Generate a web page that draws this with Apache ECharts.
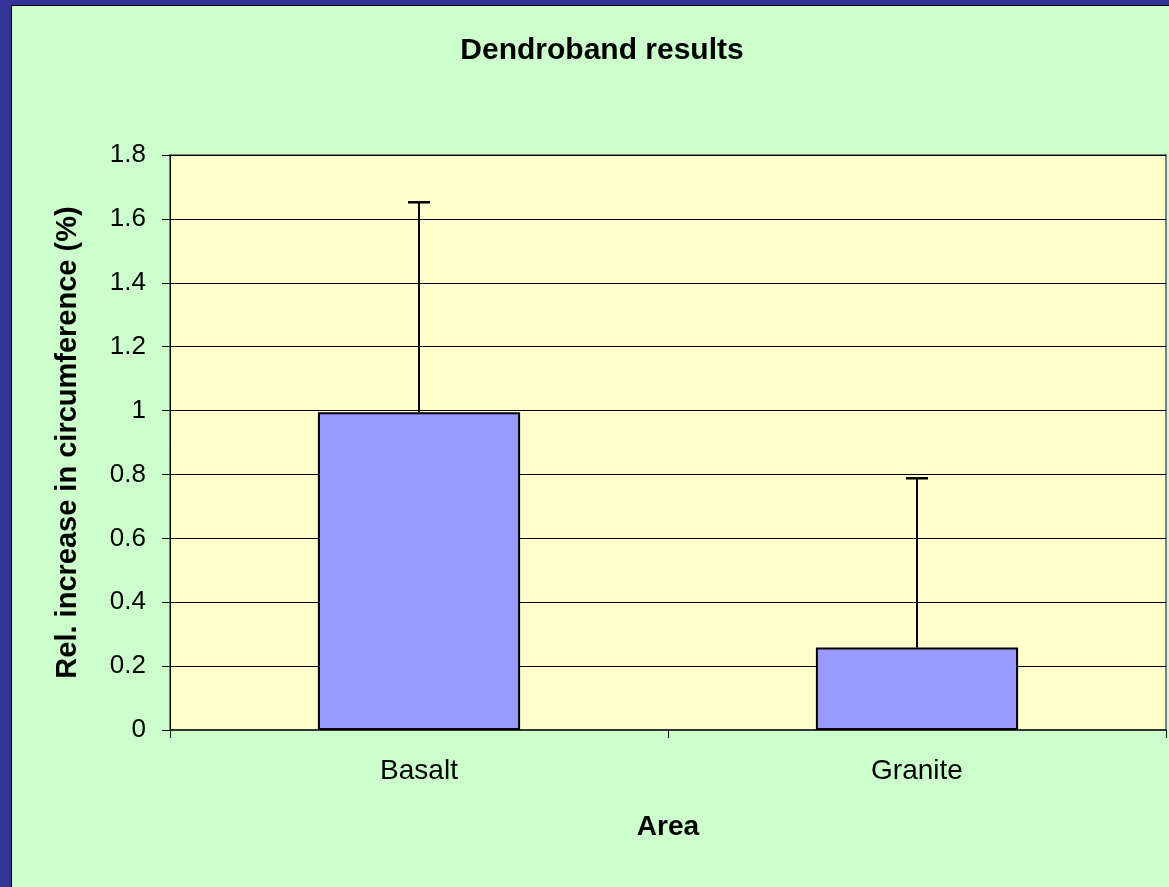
<!DOCTYPE html>
<html>
<head>
<meta charset="utf-8">
<script src="https://cdn.jsdelivr.net/npm/echarts@6/dist/echarts.min.js"></script>
<style>
html,body{margin:0;padding:0;background:#CCFFCC;}
#chart{width:1169px;height:887px;}
</style>
</head>
<body>
<div id="chart"></div>
<script>
const categories = ["Basalt", "Granite"];
const meanValues = [0.995, 0.258];
const errorPlus = [0.657, 0.530];
const yTicks = [0, 0.2, 0.4, 0.6, 0.8, 1, 1.2, 1.4, 1.6, 1.8];

const FONT = '"Liberation Sans", Arial, sans-serif';
const chart = echarts.init(document.getElementById('chart'), null, {renderer: 'canvas'});

const errorData = categories.map((c, i) => [i, meanValues[i], meanValues[i] + errorPlus[i]]);

const option = {
  backgroundColor: '#CCFFCC',
  animation: false,
  title: {
    text: 'Dendroband results',
    left: 597,
    textAlign: 'center',
    top: 31,
    textStyle: {fontFamily: FONT, fontWeight: 'bold', fontSize: 30, color: '#000'}
  },
  graphic: [
    {type: 'rect', shape: {x: 0, y: 0, width: 11, height: 887}, style: {fill: '#333399'}, z: 100},
    {type: 'rect', shape: {x: 0, y: 0, width: 1169, height: 5}, style: {fill: '#333399'}, z: 100},
    {type: 'rect', shape: {x: 11, y: 5, width: 1, height: 882}, style: {fill: '#000'}, z: 100},
    {type: 'rect', shape: {x: 11, y: 5, width: 1158, height: 1}, style: {fill: '#000'}, z: 100}
  ],
  grid: {
    left: 170, top: 155, right: 3, bottom: 157,
    show: true, backgroundColor: '#FFFFCC', borderColor: '#808080', borderWidth: 2
  },
  xAxis: {
    type: 'category',
    data: categories,
    name: 'Area',
    nameLocation: 'middle',
    nameGap: 83,
    nameTextStyle: {fontFamily: FONT, fontWeight: 'bold', fontSize: 28, color: '#000'},
    axisLine: {lineStyle: {color: '#333', width: 2}},
    axisTick: {show: true, length: 8, lineStyle: {color: '#000', width: 1}},
    axisLabel: {fontFamily: FONT, fontSize: 28, color: '#000', margin: 27},
    splitLine: {show: false}
  },
  yAxis: {
    type: 'value',
    min: 0, max: 1.8, interval: 0.2,
    name: 'Rel. increase in circumference (%)',
    nameLocation: 'middle',
    nameGap: 88,
    nameTextStyle: {fontFamily: FONT, fontWeight: 'bold', fontSize: 29, color: '#000'},
    axisLine: {show: true, lineStyle: {color: '#000', width: 1}},
    axisTick: {show: true, length: 8, lineStyle: {color: '#000'}},
    axisLabel: {
      fontFamily: FONT, fontSize: 26, color: '#000', margin: 24,
      formatter: v => {
        const t = yTicks.find(x => Math.abs(x - v) < 1e-9);
        return String(t !== undefined ? t : +v.toFixed(1));
      }
    },
    splitLine: {show: true, lineStyle: {color: '#000', width: 1}}
  },
  series: [
    {
      type: 'bar',
      data: meanValues,
      barWidth: '40.6%',
      itemStyle: {color: '#9999FF', borderColor: '#000', borderWidth: 2},
      z: 2
    },
    {
      type: 'custom',
      data: errorData,
      z: 3,
      renderItem: function (params, api) {
        const x = api.value(0);
        const low = api.coord([x, api.value(1)]);
        const high = api.coord([x, api.value(2)]);
        const half = 11;
        return {
          type: 'group',
          children: [
            {type: 'line', shape: {x1: low[0], y1: low[1], x2: high[0], y2: high[1]}, style: {stroke: '#000', lineWidth: 2}},
            {type: 'line', shape: {x1: high[0] - half, y1: high[1], x2: high[0] + half, y2: high[1]}, style: {stroke: '#000', lineWidth: 2.5}}
          ]
        };
      }
    }
  ]
};
chart.setOption(option);
</script>
</body>
</html>
